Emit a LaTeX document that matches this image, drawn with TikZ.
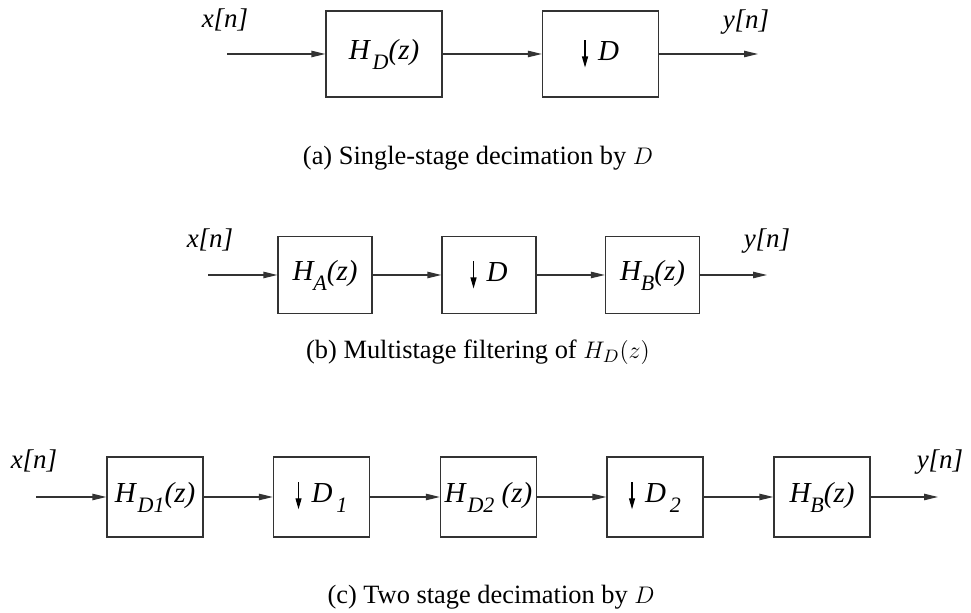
\documentclass[tikz,border=0pt]{standalone}
\usepackage{fontspec}
\setmainfont{Liberation Serif}
\usetikzlibrary{arrows.meta}
\newcommand{\sbs}[1]{\raisebox{-0.75ex}{\fontsize{11}{12}\selectfont #1}}
\newcommand{\dnarr}{\tikz[baseline=0pt]\draw[line width=0.55pt,-{Triangle[length=5.5pt,width=3pt]}] (0pt,10pt) -- (0pt,-3.5pt);}
\begin{document}
\begin{tikzpicture}[x=0.5pt,y=-0.5pt,
  lbl/.style={font=\fontsize{13.5}{15}\selectfont\itshape, inner sep=0pt},
  captxt/.style={font=\fontsize{13.2}{15}\selectfont, inner sep=0pt},
  blk/.style={draw=black!80, line width=0.6pt, inner sep=0pt, font=\fontsize{14.5}{16}\selectfont\itshape},
  bA/.style={blk, minimum width=58pt, minimum height=43pt},
  bB/.style={blk, minimum width=47pt, minimum height=38.5pt},
  bC/.style={blk, minimum width=48pt, minimum height=40pt},
  conn/.style={draw=black!80, line width=0.6pt, -{Triangle[length=7pt,width=3.2pt]}}]
\useasboundingbox (0,0) rectangle (971,613);
% Row (a)
\coordinate (ain) at (227,54);
\node[bA] (ahd) at (384,54) {H\kern1.5pt\sbs{D}(z)};
\node[bA] (ad) at (600.5,54) {\dnarr\hspace{5pt}D};
\coordinate (aout) at (758,54);
\node[lbl] (ax) at (225,20) {x[n]};
\node[lbl] (ay) at (746,22) {y[n]};
\draw[conn] (ain) -- (ahd);
\draw[conn] (ahd) -- (ad);
\draw[conn] (ad) -- (aout);
\node[captxt] (capa) at (478,158) {(a) Single-stage decimation by $D$};
% Row (b)
\coordinate (bin) at (208,275);
\node[bB] (bha) at (325,275) {H\sbs{A}(z)};
\node[bB] (bd) at (489,275) {\dnarr\hspace{5pt}D};
\node[bB] (bhb) at (652.5,275) {H\sbs{B}(z)};
\coordinate (bout) at (767,275);
\node[lbl] (bx) at (210,240) {x[n]};
\node[lbl] (by) at (767,241) {y[n]};
\draw[conn] (bin) -- (bha);
\draw[conn] (bha) -- (bd);
\draw[conn] (bd) -- (bhb);
\draw[conn] (bhb) -- (bout);
\node[captxt] (capb) at (478,352) {(b) Multistage filtering of $H_D(z)$};
% Row (c)
\coordinate (cin) at (36,497);
\node[bC] (ch1) at (155,497) {H\kern1pt\sbs{D1}(z)};
\node[bC] (cd1) at (321.5,497) {\dnarr\hspace{5pt}D\kern2pt\sbs{1}};
\node[bC] (ch2) at (488.5,497) {H\kern1pt\sbs{D2} (z)};
\node[bC] (cd2) at (655,497) {\dnarr\hspace{5pt}D\kern2pt\sbs{2}};
\node[bC] (chb) at (822,497) {H\sbs{B}(z)};
\coordinate (cout) at (938,497);
\node[lbl] (cx) at (34,461) {x[n]};
\node[lbl] (cy) at (940,462) {y[n]};
\draw[conn] (cin) -- (ch1);
\draw[conn] (ch1) -- (cd1);
\draw[conn] (cd1) -- (ch2);
\draw[conn] (ch2) -- (cd2);
\draw[conn] (cd2) -- (chb);
\draw[conn] (chb) -- (cout);
\node[captxt] (capc) at (491,597) {(c) Two stage decimation by $D$};
\end{tikzpicture}
\end{document}
